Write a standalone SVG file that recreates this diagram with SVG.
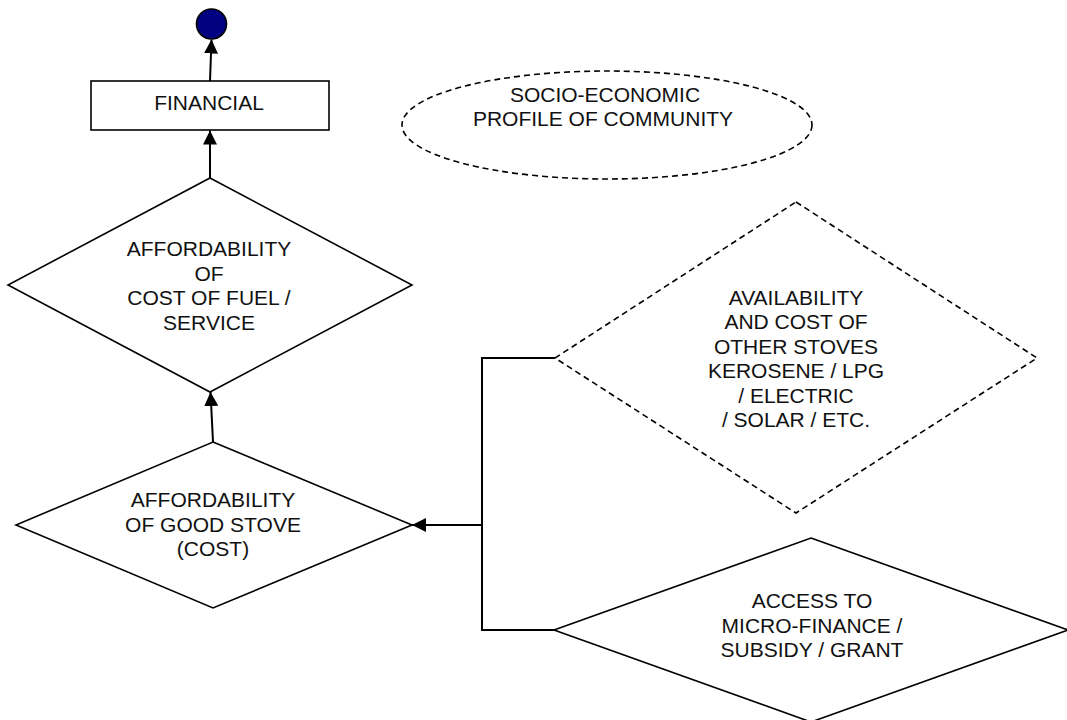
<svg xmlns="http://www.w3.org/2000/svg" width="1067" height="720" viewBox="0 0 1067 720">
  <style>
    .shape { fill: #ffffff; stroke: #000000; stroke-width: 1.6; }
    .dashed { fill: #ffffff; stroke: #000000; stroke-width: 1.6; stroke-dasharray: 6 4; }
    .conn { fill: none; stroke: #000000; stroke-width: 2; }
    .lbl { font-family: "Liberation Sans", Arial, sans-serif; font-size: 21px; fill: #111111; text-anchor: middle; }
  </style>
  <defs>
    <marker id="arrow" viewBox="0 0 14 14" refX="14" refY="7" markerWidth="14" markerHeight="14" markerUnits="userSpaceOnUse" orient="auto">
      <path d="M0,0 L14,7 L0,14 Z" fill="#000000"/>
    </marker>
  </defs>
  <rect width="1067" height="720" fill="#ffffff"/>

  <g id="connectors">
    <line class="conn" x1="210" y1="81" x2="211.5" y2="39.5" marker-end="url(#arrow)"/>
    <line class="conn" x1="210" y1="178" x2="210" y2="130.5" marker-end="url(#arrow)"/>
    <line class="conn" x1="213" y1="442" x2="210.5" y2="392" marker-end="url(#arrow)"/>
    <polyline class="conn" points="555,358 482,358 482,630 554,630"/>
    <line class="conn" x1="482" y1="525" x2="412" y2="525" marker-end="url(#arrow)"/>
  </g>

  <g id="goal">
    <circle cx="211.5" cy="24" r="15" fill="#000080" stroke="#000000" stroke-width="1.6"/>
  </g>

  <g id="financial">
    <rect class="shape" x="91" y="81" width="238" height="49"/>
    <text class="lbl" x="209" y="110">FINANCIAL</text>
  </g>

  <g id="socio-economic">
    <ellipse class="dashed" cx="607" cy="125" rx="205" ry="54"/>
    <text class="lbl" x="605" y="101.5">SOCIO-ECONOMIC</text>
    <text class="lbl" x="603" y="126">PROFILE OF COMMUNITY</text>
  </g>

  <g id="affordability-fuel">
    <polygon class="shape" points="210,178 412,285 210,392 8,285"/>
    <text class="lbl" x="209" y="256">AFFORDABILITY</text>
    <text class="lbl" x="209" y="280.5">OF</text>
    <text class="lbl" x="209" y="305">COST OF FUEL /</text>
    <text class="lbl" x="209" y="329.5">SERVICE</text>
  </g>

  <g id="affordability-stove">
    <polygon class="shape" points="213,442 412,525 213,608 16,525"/>
    <text class="lbl" x="213" y="507">AFFORDABILITY</text>
    <text class="lbl" x="213" y="531.5">OF GOOD STOVE</text>
    <text class="lbl" x="213" y="556">(COST)</text>
  </g>

  <g id="other-stoves">
    <polygon class="dashed" points="796,202 1037,358 796,513 555,358"/>
    <text class="lbl" x="796" y="304.5">AVAILABILITY</text>
    <text class="lbl" x="796" y="329">AND COST OF</text>
    <text class="lbl" x="796" y="353.5">OTHER STOVES</text>
    <text class="lbl" x="796" y="378">KEROSENE / LPG</text>
    <text class="lbl" x="796" y="402.5">/ ELECTRIC</text>
    <text class="lbl" x="796" y="427">/ SOLAR / ETC.</text>
  </g>

  <g id="micro-finance">
    <polygon class="shape" points="811,538 1068,630 811,722 554,630"/>
    <text class="lbl" x="812" y="608">ACCESS TO</text>
    <text class="lbl" x="812" y="632.5">MICRO-FINANCE /</text>
    <text class="lbl" x="812" y="657">SUBSIDY / GRANT</text>
  </g>
</svg>
